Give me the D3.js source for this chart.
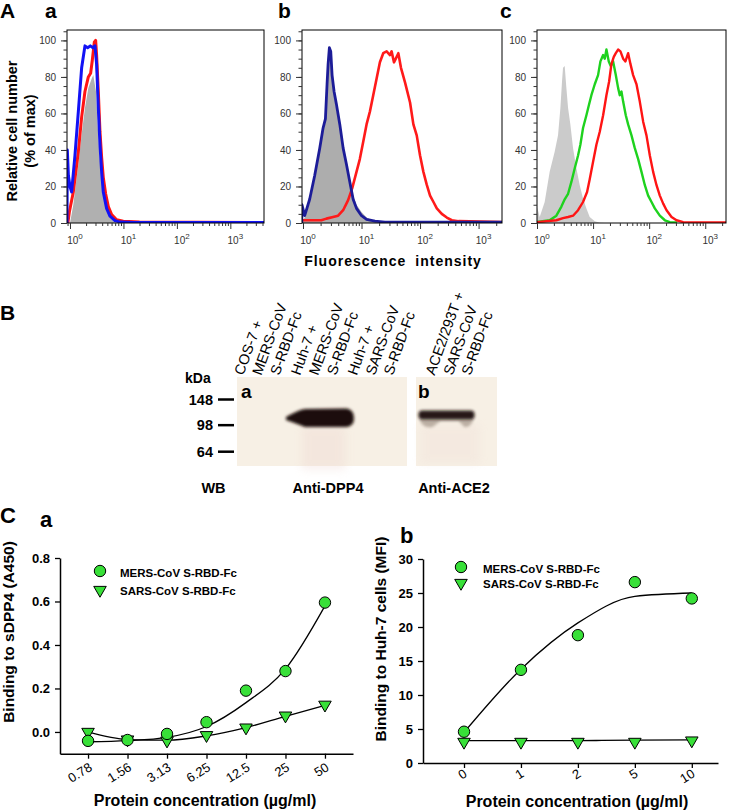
<!DOCTYPE html>
<html><head><meta charset="utf-8">
<script src="https://cdn.jsdelivr.net/npm/d3@7"></script>
<style>
body{margin:0;background:#fff}
svg{display:block}
</style>
</head><body>
<svg id="fig" width="733" height="812"></svg>
<script>
// ===================== DATA =====================
// Panel A: flow cytometry histograms, [log10(fluorescence), % of max]
const flowYMajor = [0, 20, 40, 60, 80, 100];
const flowYMinor = d3.range(0, 106, 5);
const flowDecades = [0, 1, 2, 3];

const aGray = [[0,0],[0.062,10],[0.156,32],[0.218,48.5],[0.28,63],[0.343,74],[0.405,79],[0.436,81],[0.486,72],[0.517,54],[0.548,39],[0.579,26.5],[0.623,15.6],[0.685,7.3],[0.748,2.7],[0.841,0.4],[0.903,0]];
const aRed = [[-0.04,0],[-0.012,6],[0.062,17],[0.156,39],[0.218,58],[0.28,72],[0.343,80],[0.386,82],[0.417,89],[0.455,99],[0.48,100],[0.498,92],[0.53,72],[0.561,50],[0.592,36],[0.623,25],[0.667,16],[0.717,9],[0.779,4.6],[0.872,1.8],[0.997,1],[1.3,0.5],[3.7,0.3]];
const aBlue = [[-0.056,0],[-0.05,40],[-0.03,26],[0,20],[0.031,17],[0.093,37],[0.156,61],[0.218,85],[0.28,97],[0.33,96],[0.38,97],[0.43,96],[0.467,97],[0.498,87],[0.53,63],[0.561,43],[0.592,28],[0.623,17],[0.685,8],[0.748,3.7],[0.841,1.3],[0.935,0.5],[1.2,0.3],[3.7,0.3]];

const bGray = [[-0.02,0],[0.029,3],[0.114,11],[0.2,24],[0.286,39],[0.343,50],[0.383,55],[0.411,72],[0.429,84],[0.451,92],[0.474,90],[0.497,78],[0.531,70],[0.571,62],[0.629,52],[0.686,40],[0.743,31],[0.8,22],[0.857,15],[0.914,10],[1.0,6],[1.086,3],[1.2,1],[1.3,0]];
const bBlue = [[-0.02,0],[-0.017,10],[0.029,4],[0.114,13],[0.2,26],[0.286,41],[0.343,52],[0.383,57],[0.411,76],[0.429,87],[0.451,96],[0.474,94],[0.497,81],[0.531,72],[0.571,65],[0.629,54],[0.686,41],[0.743,32],[0.8,22.5],[0.857,13],[0.914,8],[1.0,4],[1.086,2],[1.229,1],[1.4,0.5],[3.5,0.5]];
const bRed = [[-0.02,1.5],[0.314,1.5],[0.4,2.4],[0.514,3.3],[0.6,4],[0.686,7],[0.771,12.5],[0.84,19],[0.914,28],[0.971,35],[1.029,44.5],[1.086,54],[1.143,61],[1.2,70],[1.257,79],[1.314,88],[1.371,93],[1.429,94],[1.486,92],[1.514,94],[1.554,88],[1.6,91],[1.629,93],[1.674,85],[1.743,77],[1.829,66],[1.886,54],[1.943,48],[2.0,37],[2.057,28],[2.114,21],[2.171,15],[2.229,11.5],[2.286,8],[2.371,5],[2.457,3],[2.543,1.5],[2.657,1],[3.5,0.5]];

const cGray = [[0,0],[0.003,8.8],[0.048,3.3],[0.137,11.5],[0.226,28],[0.315,39],[0.375,48],[0.417,63],[0.446,77.5],[0.464,85],[0.494,86],[0.524,74],[0.554,63],[0.595,54],[0.643,41],[0.702,30],[0.762,20.7],[0.821,13.4],[0.881,7.9],[0.94,3.3],[1.03,0.9],[1.119,0.2],[1.2,0]];
const cGreen = [[0,0.5],[0.226,1.5],[0.345,4],[0.435,9],[0.494,13],[0.554,16],[0.613,22.5],[0.673,30],[0.732,37],[0.774,43],[0.821,52],[0.881,59],[0.929,65],[0.97,70],[1.03,76],[1.089,81],[1.131,88.5],[1.179,92],[1.208,90],[1.238,95],[1.28,88.5],[1.315,86],[1.357,88.5],[1.405,81],[1.446,74],[1.476,70],[1.506,72],[1.536,66.5],[1.583,59],[1.625,54],[1.685,48],[1.744,41],[1.804,35],[1.863,28],[1.923,20.7],[1.982,15],[2.042,11.5],[2.101,8],[2.19,4],[2.28,1.5],[2.369,0.5],[2.5,0.3]];
const cRed = [[0,0.5],[0.345,1.5],[0.464,2.7],[0.554,3.3],[0.643,4],[0.732,7],[0.821,11.5],[0.893,17],[0.94,24],[1.0,33.5],[1.06,43],[1.119,50],[1.179,59],[1.238,70],[1.286,77.5],[1.327,87],[1.369,91],[1.405,93],[1.446,95],[1.488,94],[1.536,90],[1.577,88.5],[1.625,93],[1.667,87],[1.714,81],[1.774,76],[1.833,66.5],[1.893,55.5],[1.952,48],[2.012,37],[2.071,28],[2.131,20.7],[2.19,15],[2.25,10.6],[2.31,7],[2.399,3.3],[2.488,1.5],[2.607,0.5],[3.4,0.3]];

// Panel B: western blot
const laneLabelsA = [["COS-7 +","MERS-CoV","S-RBD-Fc"],["Huh-7 +","MERS-CoV","S-RBD-Fc"],["Huh-7 +","SARS-CoV","S-RBD-Fc"]];
const laneLabelsB = [["ACE2/293T +","SARS-CoV","S-RBD-Fc"]];
const markerKDa = [148, 98, 64];
const bandKDa = 110;
const bandIntensityA = [0, 1, 0];
const bandIntensityB = [0.95];

// Panel C a: ELISA binding to sDPP4
const concA = ["0.78","1.56","3.13","6.25","12.5","25","50"];
const mersA = [-0.041,-0.037,-0.009,0.045,0.19,0.28,0.595];
const sarsA = [0.0,-0.035,-0.04,-0.015,0.02,0.075,0.125];
const mersFitA = [-0.045,-0.04,-0.025,0.025,0.135,0.29,0.58];
const sarsFitA = [0.0,-0.035,-0.038,-0.018,0.02,0.072,0.122];
const yTicksA = [0, 0.2, 0.4, 0.6, 0.8];

// Panel C b: flow binding to Huh-7 cells (MFI)
const concB = ["0","1","2","5","10"];
const mersB = [4.6,13.7,18.8,26.6,24.2];
const sarsB = [3.1,3.1,3.1,3.1,3.3];
const mersFitB = [4.5,13.8,20.6,24.5,25.0];
const sarsFitB = [3.3,3.3,3.3,3.35,3.4];
const yTicksB = [0,5,10,15,20,25,30];

const seriesNames = ["MERS-CoV S-RBD-Fc","SARS-CoV S-RBD-Fc"];

// ===================== DRAWING =====================
const FONT = '"Liberation Sans", Arial, Helvetica, sans-serif';
const svg = d3.select("#fig").attr("font-family", FONT);
svg.append("rect").attr("width",733).attr("height",812).attr("fill","#fff");
const defs = svg.append("defs");

function label(txt, x, y, size, weight, opts = {}) {
  const t = svg.append("text").attr("x", x).attr("y", y)
    .attr("font-size", size).attr("font-weight", weight || "normal")
    .attr("fill", opts.fill || "#000").text(txt);
  if (opts.anchor) t.attr("text-anchor", opts.anchor);
  if (opts.rotate !== undefined) t.attr("transform", `rotate(${opts.rotate},${x},${y})`);
  if (opts.ls) t.attr("letter-spacing", opts.ls);
  if (opts.ws) t.attr("word-spacing", opts.ws);
  return t;
}

// ---------- Panel A ----------
const flowTop = 30, flowBottom = 223;
function flowPanel(cfg) {
  const x = d3.scaleLinear().domain([cfg.lo, cfg.hi]).range([cfg.left, cfg.right]);
  const y = d3.scaleLinear().domain([0, 105.7]).range([flowBottom, flowTop]);
  const g = svg.append("g");
  const clipId = "clip" + cfg.id;
  defs.append("clipPath").attr("id", clipId).append("rect")
    .attr("x", cfg.left).attr("y", flowTop).attr("width", cfg.right - cfg.left).attr("height", flowBottom - flowTop);
  const plot = g.append("g").attr("clip-path", `url(#${clipId})`);
  const area = d3.area().x(d => x(d[0])).y0(y(0)).y1(d => y(d[1]));
  const line = d3.line().x(d => x(d[0])).y(d => y(d[1]));
  cfg.series.forEach(s => {
    if (s.fill) {
      plot.append("path").datum(s.data).attr("d", area).attr("fill", s.color);
    } else {
      plot.append("path").datum(s.data).attr("d", line).attr("fill", "none")
        .attr("stroke", s.color).attr("stroke-width", s.width).attr("stroke-linejoin", "round");
    }
  });
  g.append("rect").attr("x", cfg.left).attr("y", flowTop)
    .attr("width", cfg.right - cfg.left).attr("height", flowBottom - flowTop)
    .attr("fill", "none").attr("stroke", "#000").attr("stroke-width", 1);
  const yMin = g.append("g").attr("transform", `translate(${cfg.left},0)`)
    .call(d3.axisLeft(y).tickValues(flowYMinor).tickSize(3.5).tickFormat(""));
  const yMaj = g.append("g").attr("transform", `translate(${cfg.left},0)`)
    .call(d3.axisLeft(y).tickValues(flowYMajor).tickSize(6).tickPadding(5));
  [yMin, yMaj].forEach(a => { a.select(".domain").remove(); a.selectAll("line").attr("stroke", "#333"); });
  yMaj.selectAll("text").attr("font-family", FONT).attr("font-size", 10).attr("fill", "#333");
  const minor = [];
  for (let k = -1; k <= 3; k++) for (let m = 2; m <= 9; m++) {
    const v = k + Math.log10(m);
    if (v >= cfg.lo && v <= cfg.hi) minor.push(v);
  }
  const xMin = g.append("g").attr("transform", `translate(0,${flowBottom})`)
    .call(d3.axisBottom(x).tickValues(minor).tickSize(3).tickFormat(""));
  const xMaj = g.append("g").attr("transform", `translate(0,${flowBottom})`)
    .call(d3.axisBottom(x).tickValues(flowDecades.filter(v => v >= cfg.lo - 0.001)).tickSize(6).tickFormat(""));
  [xMin, xMaj].forEach(a => { a.select(".domain").remove(); a.selectAll("line").attr("stroke", "#333"); });
  flowDecades.forEach(k => {
    const t = g.append("text").attr("x", x(k) + 5).attr("y", 244)
      .attr("text-anchor", "middle").attr("font-size", 10).attr("fill", "#333");
    t.append("tspan").text("10");
    t.append("tspan").attr("font-size", 8).attr("dy", -5.5).text(k);
  });
}

flowPanel({id: "a", left: 67, right: 264, lo: -0.056, hi: 3.63, series: [
  {data: aGray, fill: true, color: "#b0b0b0"},
  {data: aRed, color: "#ff1414", width: 3},
  {data: aBlue, color: "#1212f5", width: 3}
]});
flowPanel({id: "b", left: 302, right: 502, lo: -0.017, hi: 3.4, series: [
  {data: bGray, fill: true, color: "#adadad"},
  {data: bRed, color: "#ff1a1a", width: 2.6},
  {data: bBlue, color: "#1c1c98", width: 2.8}
]});
flowPanel({id: "c", left: 537, right: 726, lo: 0, hi: 3.37, series: [
  {data: cGray, fill: true, color: "#cbcbcb"},
  {data: cGreen, color: "#1ed21e", width: 2.4},
  {data: cRed, color: "#ff1414", width: 2.4}
]});

label("A", 0, 18, 21, "bold");
label("a", 45, 18, 21, "bold");
label("b", 278, 18, 21, "bold");
label("c", 500, 18, 21, "bold");
label("Relative cell number", 17, 131, 14.5, "bold", {anchor: "middle", rotate: -90});
label("(% of max)", 35, 131, 14.5, "bold", {anchor: "middle", rotate: -90});
label("Fluorescence intensity", 393, 266, 14, "bold", {anchor: "middle", ls: 1, ws: 4});

// ---------- Panel B ----------
label("B", 0, 320, 21, "bold");
const blotTop = 377, blotBottom = 466;
const blotAExtent = [237, 407], blotBExtent = [416, 497];
const laneA = d3.scaleBand().domain(d3.range(laneLabelsA.length)).range(blotAExtent);
const laneB = d3.scaleBand().domain(d3.range(laneLabelsB.length)).range(blotBExtent);
const kda = d3.scaleLog().domain([148, 64]).range([399.5, 451.7]);

const blur = defs.append("filter").attr("id", "blur").attr("x", "-20%").attr("y", "-50%").attr("width", "140%").attr("height", "200%");
blur.append("feGaussianBlur").attr("stdDeviation", 1.5);
const blur2 = defs.append("filter").attr("id", "blur2").attr("x", "-20%").attr("y", "-50%").attr("width", "140%").attr("height", "200%");
blur2.append("feGaussianBlur").attr("stdDeviation", 4);

[blotAExtent, blotBExtent].forEach(ext => {
  svg.append("rect").attr("x", ext[0]).attr("y", blotTop).attr("width", ext[1] - ext[0])
    .attr("height", blotBottom - blotTop).attr("fill", "#f7f0e5");
});
svg.append("rect").attr("x", laneA(1) + 8).attr("y", kda(bandKDa) + 8).attr("width", 44).attr("height", 44)
  .attr("fill", "#ecd2cc").attr("opacity", 0.3).attr("filter", "url(#blur2)");
svg.append("rect").attr("x", laneB(0) + 4).attr("y", kda(bandKDa) + 6).attr("width", 60).attr("height", 40)
  .attr("fill", "#ecd8d2").attr("opacity", 0.25).attr("filter", "url(#blur2)");

bandIntensityA.forEach((v, i) => {
  if (v <= 0) return;
  const cx = laneA(i) + laneA.bandwidth() / 2 + 3, cy = kda(bandKDa);
  const p = d3.path();
  p.moveTo(cx - 39, cy - 1);
  p.bezierCurveTo(cx - 32, cy - 5, cx - 26, cy - 8, cx - 20, cy - 9);
  p.lineTo(cx + 22, cy - 9.5);
  p.quadraticCurveTo(cx + 29, cy - 8, cx + 29, cy);
  p.quadraticCurveTo(cx + 29, cy + 8, cx + 22, cy + 9);
  p.lineTo(cx - 20, cy + 9);
  p.bezierCurveTo(cx - 26, cy + 7, cx - 32, cy + 4, cx - 39, cy + 2);
  p.closePath();
  svg.append("path").attr("d", p.toString()).attr("fill", "#1c0f08")
    .attr("opacity", v).attr("filter", "url(#blur)");
});
bandIntensityB.forEach((v, i) => {
  const cx = laneB(i) + laneB.bandwidth() / 2 - 10, cy = kda(bandKDa) - 3;
  svg.append("path").attr("d", `M${cx-27},${cy+4} Q${cx-24},${cy+14} ${cx-14},${cy+12} L${cx-6},${cy+6} L${cx+12},${cy+6} L${cx+18},${cy+12} Q${cx+24},${cy+13} ${cx+27},${cy+4} Z`)
    .attr("fill", "#7d6c5e").attr("opacity", v * 0.5).attr("filter", "url(#blur)");
  svg.append("rect").attr("x", cx - 28).attr("y", cy - 4.5).attr("width", 56).attr("height", 9).attr("rx", 4)
    .attr("fill", "#1c0f08").attr("opacity", v).attr("filter", "url(#blur)");
});

label("kDa", 185, 383, 14, "bold");
markerKDa.forEach(m => {
  label(String(m), 213, kda(m) + 5.3, 14.5, "bold", {anchor: "end"});
  svg.append("line").attr("x1", 218).attr("x2", 234).attr("y1", kda(m)).attr("y2", kda(m))
    .attr("stroke", "#000").attr("stroke-width", 2.5);
});
label("a", 241, 398, 19, "bold");
label("b", 418, 398, 19, "bold");

function laneLabels(labels, scale) {
  labels.forEach((lines, i) => {
    const x0 = scale(i) + scale.bandwidth() / 2 - 22;
    lines.forEach((t, j) => {
      label(t, x0 + j * 18, 376, 14.5, "normal", {rotate: -70});
    });
  });
}
laneLabels(laneLabelsA, laneA);
laneLabels(laneLabelsB, laneB);

label("WB", 213.5, 493, 14.5, "bold", {anchor: "middle"});
label("Anti-DPP4", 328, 493, 14.5, "bold", {anchor: "middle"});
label("Anti-ACE2", 454, 493, 14.5, "bold", {anchor: "middle"});

// ---------- Panel C ----------
label("C", 0, 523, 22, "bold");
label("a", 40, 527, 22, "bold");
label("b", 400, 543, 22, "bold");

const green = "#38e038";
const triSym = d3.symbol().type(d3.symbolTriangle).size(68);

function dosePanel(cfg) {
  const x = d3.scaleLinear().domain(cfg.xDomain).range(cfg.xRange);
  const y = d3.scaleLinear().domain(cfg.yDomain).range(cfg.yRange);
  const g = svg.append("g");
  const yAx = g.append("g").attr("transform", `translate(${cfg.xRange[0]},0)`)
    .call(d3.axisLeft(y).tickValues(cfg.yTicks).tickFormat(cfg.yFormat).tickSize(5).tickPadding(5).tickSizeOuter(0));
  yAx.selectAll("text").attr("font-family", FONT).attr("font-size", 13).attr("font-weight", "bold").attr("fill", "#000");
  const xAx = g.append("g").attr("transform", `translate(0,${cfg.yRange[0]})`)
    .call(d3.axisBottom(x).tickValues(d3.range(cfg.cats.length)).tickFormat("").tickSize(5).tickSizeOuter(0));
  // rotated category labels
  cfg.cats.forEach((c, i) => {
    label(c, x(i) + cfg.lblDx, cfg.yRange[0] + cfg.lblDy, 13, "normal", {anchor: "end", rotate: -32});
  });
  [yAx, xAx].forEach(a => {
    a.select(".domain").attr("stroke-width", 1.5);
    a.selectAll(".tick line").attr("stroke-width", 1.3);
  });
  const line = d3.line().x((d, i) => x(i)).y(d => y(d)).curve(d3.curveMonotoneX);
  [cfg.fit1, cfg.fit2].forEach(f => {
    g.append("path").datum(f).attr("d", line).attr("fill", "none").attr("stroke", "#000").attr("stroke-width", 1.3);
  });
  g.selectAll(".tri").data(cfg.s2).enter().append("path")
    .attr("d", triSym).attr("transform", (d, i) => `translate(${x(i)},${y(d)}) rotate(180)`)
    .attr("fill", green).attr("stroke", "#000").attr("stroke-width", 1);
  g.selectAll(".dot").data(cfg.s1).enter().append("circle")
    .attr("cx", (d, i) => x(i)).attr("cy", d => y(d)).attr("r", 5.7)
    .attr("fill", green).attr("stroke", "#000").attr("stroke-width", 1);
  const L = cfg.legend;
  g.append("circle").attr("cx", L.x).attr("cy", L.y1).attr("r", 5.7).attr("fill", green).attr("stroke", "#000");
  g.append("path").attr("d", triSym).attr("transform", `translate(${L.x},${L.y2}) rotate(180)`)
    .attr("fill", green).attr("stroke", "#000");
  label(seriesNames[0], L.tx, L.y1 + 5.5, 11.5, "bold");
  label(seriesNames[1], L.tx, L.y2 + 4.5, 11.5, "bold");
  label(cfg.yLabel, cfg.yLab[0], cfg.yLab[1], 15.5, "bold", {anchor: "middle", rotate: -90});
  label("Protein concentration (\u00b5g/ml)", cfg.xLab[0], cfg.xLab[1], 16, "bold", {anchor: "middle"});
}

dosePanel({
  cats: concA, s1: mersA, s2: sarsA, fit1: mersFitA, fit2: sarsFitA,
  xDomain: [-0.71, 6.71], xRange: [60, 353],
  yDomain: [-0.1, 0.8], yRange: [753.7, 558], yTicks: yTicksA, yFormat: d3.format(".1f"),
  lblDx: 5, lblDy: 16,
  legend: {x: 100, y1: 571, y2: 590, tx: 120},
  yLabel: "Binding to sDPP4 (A450)", yLab: [14, 632], xLab: [205, 806]
});
dosePanel({
  cats: concB, s1: mersB, s2: sarsB, fit1: mersFitB, fit2: sarsFitB,
  xDomain: [-0.72, 4.46], xRange: [423, 718],
  yDomain: [0, 30], yRange: [763, 559], yTicks: yTicksB, yFormat: d3.format("d"),
  lblDx: 4, lblDy: 13,
  legend: {x: 461, y1: 567, y2: 583, tx: 483},
  yLabel: "Binding to Huh-7 cells (MFI)", yLab: [386, 639], xLab: [577, 807]
});
</script>
</body></html>
